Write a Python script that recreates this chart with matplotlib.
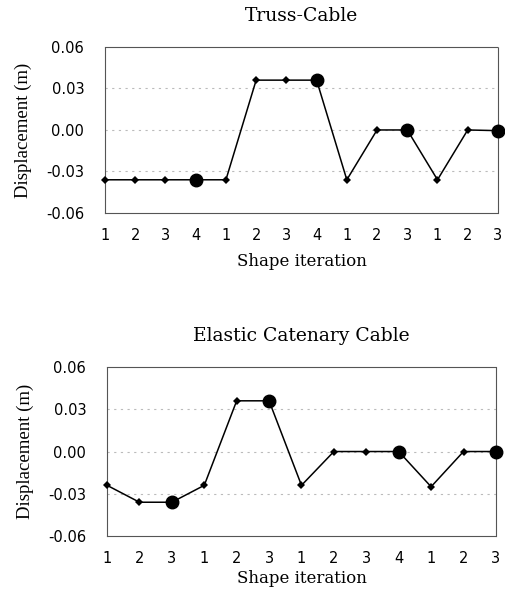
import matplotlib
matplotlib.use("Agg")
import matplotlib.pyplot as plt
import numpy as np

# Data
truss_labels = ["1", "2", "3", "4", "1", "2", "3", "4", "1", "2", "3", "1", "2", "3"]
truss_values = [-0.036, -0.036, -0.036, -0.036, -0.036, 0.036, 0.036, 0.036,
                -0.036, 0.0, 0.0, -0.036, 0.0, -0.0005]
truss_final = [3, 7, 10, 13]

cat_labels = ["1", "2", "3", "1", "2", "3", "1", "2", "3", "4", "1", "2", "3"]
cat_values = [-0.024, -0.036, -0.036, -0.024, 0.036, 0.036, -0.024, 0.0, 0.0, 0.0,
              -0.025, 0.0, 0.0]
cat_final = [2, 5, 9, 12]

yticks = [-0.06, -0.03, 0.0, 0.03, 0.06]
ytick_labels = ["-0.06", "-0.03", "0.00", "0.03", "0.06"]

fig = plt.figure(figsize=(5.05, 5.91), dpi=100)

def panel(rect, title, labels, values, finals, xlabelpad):
    ax = fig.add_axes(rect)
    x = np.arange(len(values))
    ax.plot(x, values, color="black", lw=1.1, marker="D", ms=4, mew=0, zorder=3, clip_on=False)
    ax.plot(x[finals], np.array(values)[finals], "o", color="black", ms=9, zorder=4, clip_on=False)
    ax.set_xlim(0, len(values) - 1)
    ax.set_ylim(-0.06, 0.06)
    ax.set_yticks(yticks)
    ax.set_yticklabels(ytick_labels, family="DejaVu Sans", fontsize=10.5)
    ax.set_xticks(x)
    ax.set_xticklabels(labels, family="DejaVu Sans", fontsize=10.5)
    ax.tick_params(axis="x", length=0, pad=11)
    ax.tick_params(axis="y", length=0, pad=15)
    for v in [-0.03, 0.0, 0.03]:
        ax.axhline(v, color="#bbbbbb", lw=0.8, ls=(0, (2, 4)), zorder=1)
    for s in ax.spines.values():
        s.set_linestyle((0, (2, 1)))
        s.set_linewidth(0.8)
        s.set_color("#555555")
    ax.set_title(title, family="DejaVu Serif", fontsize=13.5, pad=19)
    ax.set_xlabel("Shape iteration", family="DejaVu Serif", fontsize=12, labelpad=xlabelpad)
    ax.set_ylabel("Displacement (m)", family="Liberation Serif", fontsize=13.5, labelpad=10)
    return ax

panel([0.208, 0.6396, 0.778, 0.281], "Truss-Cable", truss_labels, truss_values, truss_final, 7)
panel([0.212, 0.093, 0.770, 0.286], "Elastic Catenary Cable", cat_labels, cat_values, cat_final, 3)

fig.savefig("out.png", dpi=100)
